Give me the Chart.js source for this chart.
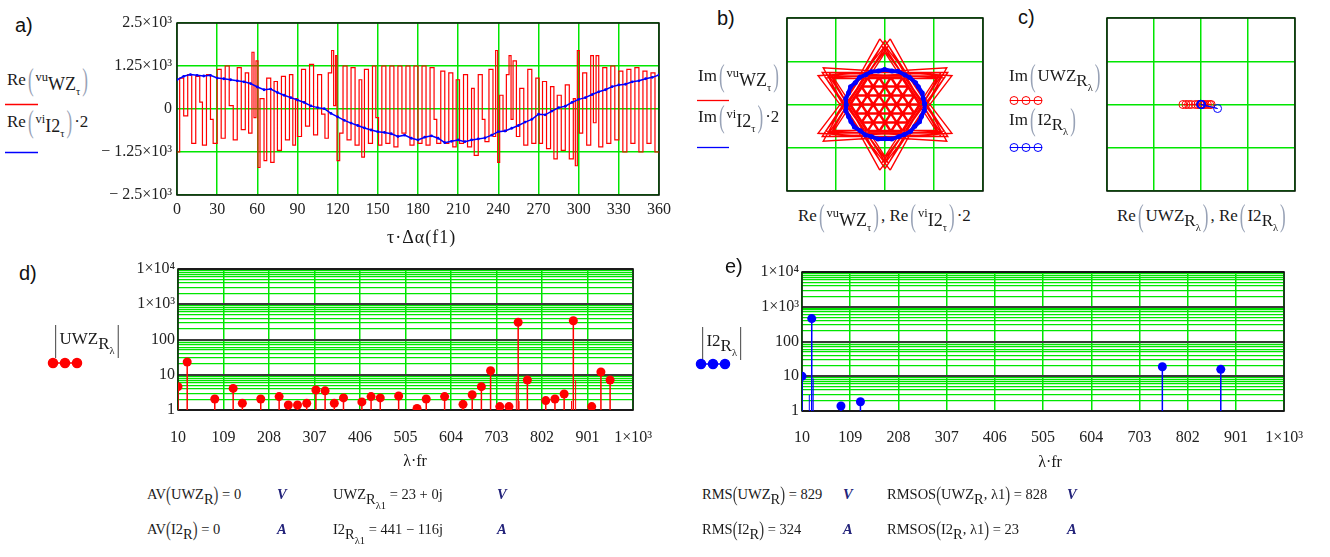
<!DOCTYPE html>
<html>
<head>
<meta charset="utf-8">
<script src="https://cdn.jsdelivr.net/npm/chart.js@4.4.1/dist/chart.umd.min.js"></script>
<style>
  body { margin: 0; background: #fff; width: 1330px; height: 557px; position: relative; overflow: hidden; }
  .box { position: absolute; }
  canvas { display: block; }
  .t { position: absolute; font: 17px 'Liberation Serif', serif; color: #1a1a1a; line-height: 1; white-space: nowrap; }
  .f { font-size: 14.5px; }
  .tag { position: absolute; font: 20px 'Liberation Sans', Arial, sans-serif; color: #111; line-height: 1; }
  .br { display: inline-block; transform: scaleY(1.9); color: #98a2b6; margin: 0 2px; }
  .bd { display: inline-block; transform: scaleY(1.45); color: #333; }
  .bar { display: inline-block; transform: scaleY(2.1); color: #222; margin: 0 2px; }
  .sm { font-size: 12.5px; position: relative; top: -4px; }
  .lo { position: relative; top: 5px; }
  .wz { font-size: 18px; }
  .lo2 { position: relative; top: 5px; font-size: 10.5px; }
  .u { font-weight: bold; font-style: italic; color: #23237a; }
</style>
</head>
<body>

<div class="box" style="left:100px;top:0"><canvas id="chA" width="580" height="250"></canvas></div>
<div class="box" style="left:780px;top:10px"><canvas id="chB" width="210" height="190"></canvas></div>
<div class="box" style="left:1100px;top:10px"><canvas id="chC" width="202" height="190"></canvas></div>
<div class="box" style="left:100px;top:250px"><canvas id="chD" width="570" height="215"></canvas></div>
<div class="box" style="left:720px;top:250px"><canvas id="chE" width="600" height="216"></canvas></div>

<!-- panel tags -->
<div class="tag" style="left:15px;top:15px">a)</div>
<div class="tag" style="left:717px;top:8px">b)</div>
<div class="tag" style="left:1018px;top:7px">c)</div>
<div class="tag" style="left:19px;top:263px">d)</div>
<div class="tag" style="left:725px;top:256px">e)</div>

<!-- panel a legend and axis title -->
<div class="t" style="left:7px;top:70px">Re<span class="br">(</span><span class="sm">vu</span><span class="lo wz">WZ<span class="lo2">τ</span></span><span class="br">)</span></div>
<div class="t" style="left:7px;top:112px">Re<span class="br">(</span><span class="sm">vi</span><span class="lo wz">I2<span class="lo2">τ</span></span><span class="br">)</span>·2</div>
<div class="t" style="left:387px;top:228px;font-size:18px;letter-spacing:1px">τ·Δα(f1)</div>

<!-- panel b legend and axis title -->
<div class="t" style="left:698px;top:66px">Im<span class="br">(</span><span class="sm">vu</span><span class="lo wz">WZ<span class="lo2">τ</span></span><span class="br">)</span></div>
<div class="t" style="left:698px;top:107px">Im<span class="br">(</span><span class="sm">vi</span><span class="lo wz">I2<span class="lo2">τ</span></span><span class="br">)</span>·2</div>
<div class="t" style="left:798px;top:206px">Re<span class="br">(</span><span class="sm">vu</span><span class="lo wz">WZ<span class="lo2">τ</span></span><span class="br">)</span>, Re<span class="br">(</span><span class="sm">vi</span><span class="lo wz">I2<span class="lo2">τ</span></span><span class="br">)</span>·2</div>

<!-- panel c legend and axis title -->
<div class="t" style="left:1009px;top:67px">Im<span class="br">(</span>UWZ<span class="lo">R<span class="lo2">λ</span></span><span class="br">)</span></div>
<div class="t" style="left:1009px;top:111px">Im<span class="br">(</span>I2<span class="lo">R<span class="lo2">λ</span></span><span class="br">)</span></div>
<div class="t" style="left:1117px;top:207px">Re<span class="br">(</span>UWZ<span class="lo">R<span class="lo2">λ</span></span><span class="br">)</span>, Re<span class="br">(</span>I2<span class="lo">R<span class="lo2">λ</span></span><span class="br">)</span></div>

<!-- panel d / e legends and axis titles -->
<div class="t" style="left:52px;top:330px"><span class="bar">|</span>UWZ<span class="lo">R<span class="lo2">λ</span></span><span class="bar">|</span></div>
<div class="t" style="left:699px;top:332px"><span class="bar">|</span>I2<span class="lo">R<span class="lo2">λ</span></span><span class="bar">|</span></div>
<div class="t" style="left:415px;top:453px;transform:translateX(-50%);font-size:16px">λ·fr</div>
<div class="t" style="left:1050px;top:454px;transform:translateX(-50%);font-size:16px">λ·fr</div>

<!-- results -->
<div class="t f" style="left:147px;top:487px">AV<span class="bd">(</span>UWZ<span class="lo">R</span><span class="bd">)</span> = 0</div>
<div class="t f u" style="left:277px;top:487px">V</div>
<div class="t f" style="left:333px;top:487px">UWZ<span class="lo">R<span class="lo2">λ1</span></span> = 23 + 0j</div>
<div class="t f u" style="left:497px;top:487px">V</div>
<div class="t f" style="left:702px;top:487px">RMS<span class="bd">(</span>UWZ<span class="lo">R</span><span class="bd">)</span> = 829</div>
<div class="t f u" style="left:843px;top:487px">V</div>
<div class="t f" style="left:887px;top:487px">RMSOS<span class="bd">(</span>UWZ<span class="lo">R</span>, λ1<span class="bd">)</span> = 828</div>
<div class="t f u" style="left:1067px;top:487px">V</div>

<div class="t f" style="left:147px;top:522px">AV<span class="bd">(</span>I2<span class="lo">R</span><span class="bd">)</span> = 0</div>
<div class="t f u" style="left:277px;top:522px">A</div>
<div class="t f" style="left:333px;top:522px">I2<span class="lo">R<span class="lo2">λ1</span></span> = 441 − 116j</div>
<div class="t f u" style="left:497px;top:522px">A</div>
<div class="t f" style="left:702px;top:522px">RMS<span class="bd">(</span>I2<span class="lo">R</span><span class="bd">)</span> = 324</div>
<div class="t f u" style="left:843px;top:522px">A</div>
<div class="t f" style="left:887px;top:522px">RMSOS<span class="bd">(</span>I2<span class="lo">R</span>, λ1<span class="bd">)</span> = 23</div>
<div class="t f u" style="left:1067px;top:522px">A</div>

<!-- legend samples -->
<svg class="box" style="left:0;top:0;pointer-events:none" width="1330" height="557">
  <line x1="5" y1="104.5" x2="38" y2="104.5" stroke="#f00" stroke-width="1.3"/>
  <line x1="5" y1="152.5" x2="38" y2="152.5" stroke="#00f" stroke-width="1.3"/>
  <line x1="697" y1="100.5" x2="729" y2="100.5" stroke="#f00" stroke-width="1.3"/>
  <line x1="697" y1="147.5" x2="729" y2="147.5" stroke="#00f" stroke-width="1.3"/>
  <g stroke="#f00" fill="none" stroke-width="1">
    <line x1="1010" y1="100.5" x2="1042" y2="100.5"/>
    <circle cx="1014" cy="100.5" r="4"/><circle cx="1026" cy="100.5" r="4"/><circle cx="1038" cy="100.5" r="4"/>
  </g>
  <g stroke="#00f" fill="none" stroke-width="1">
    <line x1="1010" y1="147.5" x2="1042" y2="147.5"/>
    <circle cx="1014" cy="147.5" r="4"/><circle cx="1026" cy="147.5" r="4"/><circle cx="1038" cy="147.5" r="4"/>
  </g>
  <g fill="#f00" stroke="#f00" stroke-width="1.5">
    <line x1="49" y1="363" x2="82" y2="363"/>
    <circle cx="53" cy="363" r="4.5"/><circle cx="65" cy="363" r="4.5"/><circle cx="77" cy="363" r="4.5"/>
  </g>
  <g fill="#00f" stroke="#00f" stroke-width="1.5">
    <line x1="697" y1="364" x2="729" y2="364"/>
    <circle cx="701" cy="364" r="4.5"/><circle cx="713" cy="364" r="4.5"/><circle cx="725" cy="364" r="4.5"/>
  </g>
</svg>

<script>
// ---- a) phase voltage (real part of vu_WZ), stepped: angle where each level starts
const vuAngle = [
  0, 2, 5, 8, 11, 14, 17, 19, 22, 25, 27,
  30, 33, 36, 39, 42, 45, 48, 51, 53.5, 56, 57.5,
  59, 60.5, 62, 65, 67, 70, 72.5, 75, 78, 81, 84, 86.5, 88.5,
  90, 93, 96, 99, 102, 105, 108, 110.5, 113, 115.5, 117, 118.5, 119.5,
  121.5, 124, 127, 130, 133, 136, 138, 140, 143, 146, 148.5,
  150.5, 153, 156, 159, 162, 165, 168, 171, 174, 177,
  180, 183, 186, 189, 192, 194, 197, 200, 203, 206, 208.5,
  211, 214, 217, 220, 222, 225, 228, 230, 233, 236, 238, 239.5,
  241, 243.5, 246, 248, 249.5, 251, 253.5, 256, 259, 262, 265, 268,
  270.5, 273, 276, 279, 281.5, 284, 287, 290, 293, 296, 297.5, 299,
  300.5, 303, 306, 309, 311, 313, 315, 318, 321, 324, 327,
  330, 333, 336, 339, 342, 345, 348, 351, 354, 357, 360
];
const vuLevel = [
  -1250, 900, -200, 1000, -1000, 950, 200, -1050, 1000, -300, -1000,
  1150, -850, 1250, 100, -900, 1200, -600, 1050, -700, 1650, -250,
  1400, -1700, 300, -1500, 900, -1550, 800, -1200, 950, -900, 1000, -1050, 300,
  -800, 1150, -500, 1300, -750, 1000, -150, -850, 1050, 1700, 100, 1550, -1500,
  -700, 1250, -900, 1200, -1050, 850, -1400, 1150, -1000, 1250, -250,
  -1050, 1250, -1000, 1250, -1100, 1250, -700, 1250, -1050, 1250,
  -1000, 1250, -1050, 1200, -300, -1000, 1100, -1000, 1050, -1100, 850,
  -1000, 1000, -1100, 600, -1350, 1000, -300, -950, 1150, -800, 1700, -1550,
  400, -650, 1000, 1550, -300, 1400, -800, 600, -1050, 1150, -1000, 900,
  -1000, 800, -1150, 650, -1450, 400, -1200, 700, -1450, 300, -1650, 1700,
  -700, 1050, -1050, 1550, -400, 1550, -1100, 1200, -1000, 1250, -900,
  1100, -1250, 1150, -1000, 1200, -1250, 1100, -1000, 1050, -1250, -1250
];

// ---- a) current (real part of vi_I2, times 2)
const viAngle = [
  0, 5, 10, 15, 20, 25, 30, 35, 40, 45, 50, 55, 60, 65, 70, 75, 80, 85, 90, 95, 100, 105, 110, 115,
  120, 125, 130, 135, 140, 145, 150, 155, 160, 165, 170, 175, 180, 185, 190, 195, 200, 205, 210, 215,
  220, 225, 230, 235, 240, 245, 250, 255, 260, 265, 270, 275, 280, 285, 290, 295, 300, 305, 310, 315,
  320, 325, 330, 335, 340, 345, 350, 355, 360
];
const viLevel = [
  850, 950, 1000, 980, 960, 980, 900, 880, 850, 820, 790, 740, 640, 560, 580, 480, 400, 330, 260, 190, 90, 40, 10, -130,
  -230, -330, -410, -480, -550, -610, -660, -680, -720, -800, -760, -850, -900, -820, -780, -850, -980, -940, -900, -950,
  -900, -870, -840, -760, -660, -640, -560, -480, -380, -300, -150, -170, -60, 40, 80, 190, 280, 330, 420, 500,
  560, 650, 700, 720, 790, 820, 880, 920, 990
];

// ---- b) voltage space-vector path: hexagram outlines (closed triangles)
const starTriangles = [
  [[0, 1850], [1602, -925], [-1602, -925]],
  [[0, -1850], [1602, 925], [-1602, 925]],
  [[-133, 1895], [-1575, -1062], [1708, -833]],
  [[133, -1895], [1575, 1062], [-1708, 833]],
  [[133, 1895], [1575, -1062], [-1708, -833]],
  [[-133, -1895], [-1575, 1062], [1708, 833]],
  [[-89, 1698], [-1426, -926], [1515, -772]],
  [[89, -1698], [1426, 926], [-1515, 772]],
  [[89, 1698], [1426, -926], [-1515, -772]],
  [[-89, -1698], [-1426, 926], [1515, 772]],
  [[0, 1650], [1429, -825], [-1429, -825]],
  [[0, -1650], [1429, 825], [-1429, 825]],
  [[0, 1500], [1299, -750], [-1299, -750]],
  [[0, -1500], [1299, 750], [-1299, 750]]
];
// inner lattice of switching states, segments [x1, y1, x2, y2]
const latticeSegs = [
  [-900, 0, 900, 0], [-750, 260, 750, 260], [-750, -260, 750, -260], [-600, 520, 600, 520],
  [-600, -520, 600, -520], [-450, 779, 450, 779], [-450, -779, 450, -779],
  [-450, -779, 450, 779], [-600, -520, 150, 780], [-150, -780, 600, 520], [-750, -260, -150, 780],
  [150, -780, 750, 260], [-900, 0, -450, 779], [450, -779, 900, 0],
  [450, -779, -450, 779], [600, -520, -150, 780], [150, -780, -600, 520], [750, -260, 150, 780],
  [-150, -780, -750, 260], [900, 0, 450, 779], [-450, -779, -900, 0]
];
// current space-vector locus
const ringRe = [1010, 975, 950, 850, 780, 630, 510, 330, 180, -10, -170, -350, -490, -650, -760, -880, -930, -1000,
  -990, -1000, -930, -870, -780, -630, -500, -340, -180, 10, 170, 350, 490, 650, 760, 880, 930, 1000, 1010];
const ringIm = [20, 180, 330, 510, 630, 780, 850, 960, 970, 1010, 970, 950, 860, 780, 630, 510, 340, 170,
  -10, -180, -350, -490, -650, -760, -880, -930, -1000, -990, -1000, -930, -870, -780, -630, -500, -350, -170, 20];

// ---- c) spectral components in the complex plane
const uwzRe = [-480, -400, -330, -260, -150, -80, -20, 23, 60, 110, 170, 230, 270];
const uwzIm = [0, 0, 0, 0, 0, 0, 0, 0, 0, 0, 0, 0, 0];
const i2Re = [10, -8, 441, 12, -5, 15];
const i2Im = [2, 4, -116, -3, 6, -2];

// ---- d) voltage spectrum magnitudes
const uwzFreq = [10, 30, 90, 130, 150, 190, 230, 250, 270, 290, 310, 330, 350, 370, 410, 430, 450, 490, 530, 550,
  590, 630, 650, 670, 690, 710, 730, 750, 770, 810, 830, 850, 870, 910, 930, 950];
const uwzMag = [4.6, 23, 2.05, 4.1, 1.55, 2.05, 2.4, 1.39, 1.39, 1.55, 3.7, 3.5, 1.55, 2.2, 1.7, 2.4, 2.2, 2.5, 1.1, 2.05,
  2.4, 1.45, 2.7, 4.6, 13, 1.25, 1.25, 308, 7.1, 1.85, 2.05, 2.85, 341, 1.25, 12, 7.1];
const uwzSideFreq = [746, 752, 866, 875];
const uwzSideMag = [6.3, 1.8, 1.8, 7.0];

// ---- e) current spectrum magnitudes
const i2Freq = [10, 30, 90, 130, 750, 870];
const i2Mag = [10, 456, 1.39, 1.85, 18.8, 15.8];
const i2SideFreq = [25, 33];
const i2SideMag = [2.9, 8.7];

// ---- ticks
const angleTicks = [0, 30, 60, 90, 120, 150, 180, 210, 240, 270, 300, 330, 360];
const aTickValues = [-2500, -1250, 0, 1250, 2500];
const aTickLabels = ['− 2.5×10³', '− 1.25×10³', '0', '1.25×10³', '2.5×10³'];
const phasorTicks = [-2500, -1250, 0, 1250, 2500];
const freqTicks = [10, 109, 208, 307, 406, 505, 604, 703, 802, 901, 1000];
const freqLabels = ['10', '109', '208', '307', '406', '505', '604', '703', '802', '901', '1×10³'];
const decades = [1, 10, 100, 1000, 10000];
const decadeLabels = ['1', '10', '100', '1×10³', '1×10⁴'];
const minorSteps = [2, 3, 4, 5, 6, 7, 8, 9];

const green = 'rgb(0,230,0)';
const red = '#ff0000';
const blue = '#0000ff';

Chart.defaults.font.family = "'Liberation Serif', serif";
Chart.defaults.font.size = 16;
Chart.defaults.color = '#222';
Chart.defaults.animation = false;
Chart.defaults.plugins.legend.display = false;
Chart.defaults.plugins.tooltip.enabled = false;

const logTicks = [];
decades.forEach((d, i) => {
  logTicks.push(d);
  if (i < decades.length - 1) minorSteps.forEach(m => logTicks.push(m * d));
});

// black box round the plot area
const framePlugin = {
  id: 'frame',
  beforeDatasetsDraw(chart) {
    const { ctx, chartArea: a } = chart;
    ctx.save();
    ctx.strokeStyle = '#111';
    ctx.lineWidth = 1.5;
    ctx.strokeRect(a.left, a.top, a.right - a.left, a.bottom - a.top);
    ctx.restore();
  }
};

const setTicks = values => scale => { scale.ticks = values.map(v => ({ value: v })); };
const pts = (xs, ys) => xs.map((x, i) => ({ x: x, y: ys[i] }));
const gap = { x: NaN, y: NaN };

function stems(freq, mag) {
  const out = [];
  freq.forEach((f, i) => { out.push({ x: f, y: 1 }, { x: f, y: mag[i] }, gap); });
  return out;
}

function plainAxis(min, max, ticks) {
  return {
    type: 'linear', min: min, max: max,
    afterBuildTicks: setTicks(ticks),
    afterFit: s => { if (s.isHorizontal()) s.height = 0; else s.width = 0; },
    grid: { color: green, lineWidth: 1.5, drawTicks: false },
    border: { display: false },
    ticks: { display: false }
  };
}

function spectrumScales(xHeight, yWidth, pad) {
  return {
    x: {
      type: 'linear', min: 10, max: 1000,
      afterBuildTicks: setTicks(freqTicks),
      afterFit: s => { s.height = xHeight; },
      grid: { color: green, lineWidth: 1.5, drawTicks: false },
      border: { display: false },
      ticks: { padding: pad, autoSkip: false, maxRotation: 0, callback: v => freqLabels[freqTicks.indexOf(v)] }
    },
    y: {
      type: 'logarithmic', min: 1, max: 10000,
      afterBuildTicks: setTicks(logTicks),
      afterFit: s => { s.width = yWidth; },
      grid: {
        drawTicks: false,
        color: c => decades.includes(c.tick.value) ? '#3a3a3a' : green,
        lineWidth: c => decades.includes(c.tick.value) ? 2 : 1.3
      },
      border: { display: false },
      ticks: {
        padding: 3, autoSkip: false,
        callback: v => { const i = decades.indexOf(v); return i >= 0 ? decadeLabels[i] : ''; }
      }
    }
  };
}

// a) time signals
new Chart(document.getElementById('chA'), {
  type: 'scatter',
  data: {
    datasets: [
      { data: pts(viAngle, viLevel), showLine: true, borderColor: blue, borderWidth: 1.5,
        pointRadius: 1.4, pointBackgroundColor: blue, pointBorderWidth: 0 },
      { data: pts(vuAngle, vuLevel), showLine: true, stepped: 'before', borderColor: red,
        borderWidth: 1.2, pointRadius: 0 }
    ]
  },
  options: {
    responsive: false, devicePixelRatio: 1,
    layout: { padding: { left: 0, right: 21, top: 23, bottom: 0 } },
    scales: {
      x: {
        type: 'linear', min: 0, max: 360,
        afterBuildTicks: setTicks(angleTicks),
        afterFit: s => { s.height = 55; },
        grid: { color: green, lineWidth: 1.5, drawTicks: false },
        border: { display: false },
        ticks: { padding: 5, autoSkip: false, maxRotation: 0 }
      },
      y: {
        type: 'linear', min: -2500, max: 2500,
        afterBuildTicks: setTicks(aTickValues),
        afterFit: s => { s.width = 77; },
        grid: { color: green, lineWidth: 1.5, drawTicks: false },
        border: { display: false },
        ticks: { padding: 5, autoSkip: false, callback: v => aTickLabels[aTickValues.indexOf(v)] }
      }
    }
  },
  plugins: [framePlugin]
});

// b) space-vector trajectories
const starPts = [];
starTriangles.forEach(tri => {
  tri.forEach(p => starPts.push({ x: p[0], y: p[1] }));
  starPts.push({ x: tri[0][0], y: tri[0][1] }, gap);
});
const latticePts = [];
latticeSegs.forEach(s => latticePts.push({ x: s[0], y: s[1] }, { x: s[2], y: s[3] }, gap));

new Chart(document.getElementById('chB'), {
  type: 'scatter',
  data: {
    datasets: [
      { data: pts(ringRe, ringIm), showLine: true, borderColor: blue, borderWidth: 4,
        pointRadius: 2.5, pointBackgroundColor: blue, pointBorderWidth: 0 },
      { data: latticePts, showLine: true, borderColor: red, borderWidth: 2.4, pointRadius: 0 },
      { data: starPts, showLine: true, borderColor: red, borderWidth: 1.4, pointRadius: 0 }
    ]
  },
  options: {
    responsive: false, devicePixelRatio: 1,
    layout: { padding: { left: 7, right: 7, top: 8, bottom: 9 } },
    scales: { x: plainAxis(-2500, 2500, phasorTicks), y: plainAxis(-2500, 2500, phasorTicks) }
  },
  plugins: [framePlugin]
});

// c) harmonic phasors
new Chart(document.getElementById('chC'), {
  type: 'scatter',
  data: {
    datasets: [
      { data: pts(i2Re, i2Im), showLine: true, borderColor: blue, borderWidth: 1,
        pointRadius: 4, pointBorderWidth: 1, pointBackgroundColor: 'rgba(0,0,0,0)' },
      { data: pts(uwzRe, uwzIm), showLine: true, borderColor: red, borderWidth: 1,
        pointRadius: 4, pointBorderWidth: 1, pointBackgroundColor: 'rgba(0,0,0,0)' }
    ]
  },
  options: {
    responsive: false, devicePixelRatio: 1,
    layout: { padding: { left: 7, right: 7, top: 8, bottom: 9 } },
    scales: { x: plainAxis(-2500, 2500, phasorTicks), y: plainAxis(-2500, 2500, phasorTicks) }
  },
  plugins: [framePlugin]
});

// d) voltage spectrum
new Chart(document.getElementById('chD'), {
  type: 'scatter',
  data: {
    datasets: [
      { data: pts(uwzFreq, uwzMag), pointRadius: 4.5, pointBackgroundColor: red, pointBorderWidth: 0 },
      { data: stems(uwzFreq, uwzMag), showLine: true, borderColor: red, borderWidth: 1.5, pointRadius: 0 },
      { data: stems(uwzSideFreq, uwzSideMag), showLine: true, borderColor: red, borderWidth: 1, pointRadius: 0 }
    ]
  },
  options: {
    responsive: false, devicePixelRatio: 1,
    layout: { padding: { left: 0, right: 21, top: 19, bottom: 0 } },
    scales: spectrumScales(55, 78, 18)
  },
  plugins: [framePlugin]
});

// e) current spectrum
new Chart(document.getElementById('chE'), {
  type: 'scatter',
  data: {
    datasets: [
      { data: pts(i2Freq, i2Mag), pointRadius: 4.5, pointBackgroundColor: blue, pointBorderWidth: 0 },
      { data: stems(i2Freq, i2Mag), showLine: true, borderColor: blue, borderWidth: 1.5, pointRadius: 0 },
      { data: stems(i2SideFreq, i2SideMag), showLine: true, borderColor: blue, borderWidth: 1, pointRadius: 0 }
    ]
  },
  options: {
    responsive: false, devicePixelRatio: 1,
    layout: { padding: { left: 0, right: 26, top: 22, bottom: 0 } },
    scales: spectrumScales(55, 82, 17)
  },
  plugins: [framePlugin]
});
</script>
</body>
</html>
